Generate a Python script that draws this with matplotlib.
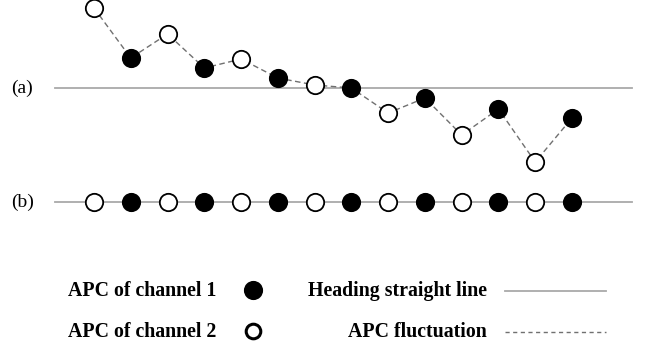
import matplotlib
matplotlib.use("Agg")
import matplotlib.pyplot as plt
import numpy as np

# Data
positions = list(range(14))
channels = [2, 1, 2, 1, 2, 1, 2, 1, 2, 1, 2, 1, 2, 1]  # which APC channel each point belongs to
fluctuation = [80, 30, 54, 20, 29, 10, 3, 0, -25, -10, -47, -21, -74, -30]  # APC offset in row (a)
row_levels = {"(a)": 0, "(b)": -114}
legend_labels = ["APC of channel 1", "APC of channel 2", "Heading straight line", "APC fluctuation"]

fig = plt.figure(figsize=(6.46, 3.47), dpi=100)
ax = fig.add_axes([0, 0, 1, 1])
ax.set_xlim(-94 / 36.77, 13 + 74 / 36.77)
ax.set_ylim(88 - 347, 88)
ax.axis("off")

serif = ["Liberation Serif", "DejaVu Serif"]
line_grey = "#a9a9a9"
dash_grey = "#707070"
ms = 12.5
mew = 1.3

x = np.array(positions)
ch = np.array(channels)
fl = np.array(fluctuation)

# Heading lines and row labels
for lab, lev in row_levels.items():
    ax.axhline(lev, xmin=55 / 646, xmax=632 / 646, color=line_grey, lw=1.3, zorder=1)
    ax.text(-94 / 36.77 + 11 / 36.77, lev, lab, family=serif, fontsize=14,
            ha="left", va="center")

# Row (a): fluctuation dashed path
ya = row_levels["(a)"] + fl
ax.plot(x, ya, ls=(0, (4, 2.5)), color=dash_grey, lw=1.0, zorder=2)

def draw_points(xs, ys, chs):
    m1 = chs == 1
    m2 = chs == 2
    ax.plot(xs[m1], ys[m1], "o", ms=ms, mfc="black", mec="black", mew=mew, zorder=3)
    ax.plot(xs[m2], ys[m2], "o", ms=ms, mfc="white", mec="black", mew=mew, zorder=3)

draw_points(x, ya, ch)
yb = np.full_like(x, row_levels["(b)"], dtype=float)
draw_points(x, yb, ch)

# Legend (figure-pixel coordinates)
def px(xp, yp):
    return (xp / 646, 1 - yp / 347)

bold = dict(family=serif, fontsize=14.3, fontweight="bold", va="center")
fig.text(*px(68, 291), legend_labels[0], ha="left", **bold)
fig.text(*px(68, 332), legend_labels[1], ha="left", **bold)
fig.text(*px(487, 291), legend_labels[2], ha="right", **bold)
fig.text(*px(487, 332), legend_labels[3], ha="right", **bold)

lax = fig.add_axes([0, 0, 1, 1])
lax.set_xlim(0, 646)
lax.set_ylim(347, 0)
lax.axis("off")
lax.plot([253], [290], "o", ms=12.5, mfc="black", mec="black", mew=mew)
lax.plot([253], [331], "o", ms=10.5, mfc="white", mec="black", mew=2.2)
lax.plot([505, 606], [291, 291], color=line_grey, lw=1.3)
lax.plot([505, 606], [332, 332], color=dash_grey, lw=1.0, ls=(0, (3, 2.5)))

fig.savefig("out.png", dpi=100)
